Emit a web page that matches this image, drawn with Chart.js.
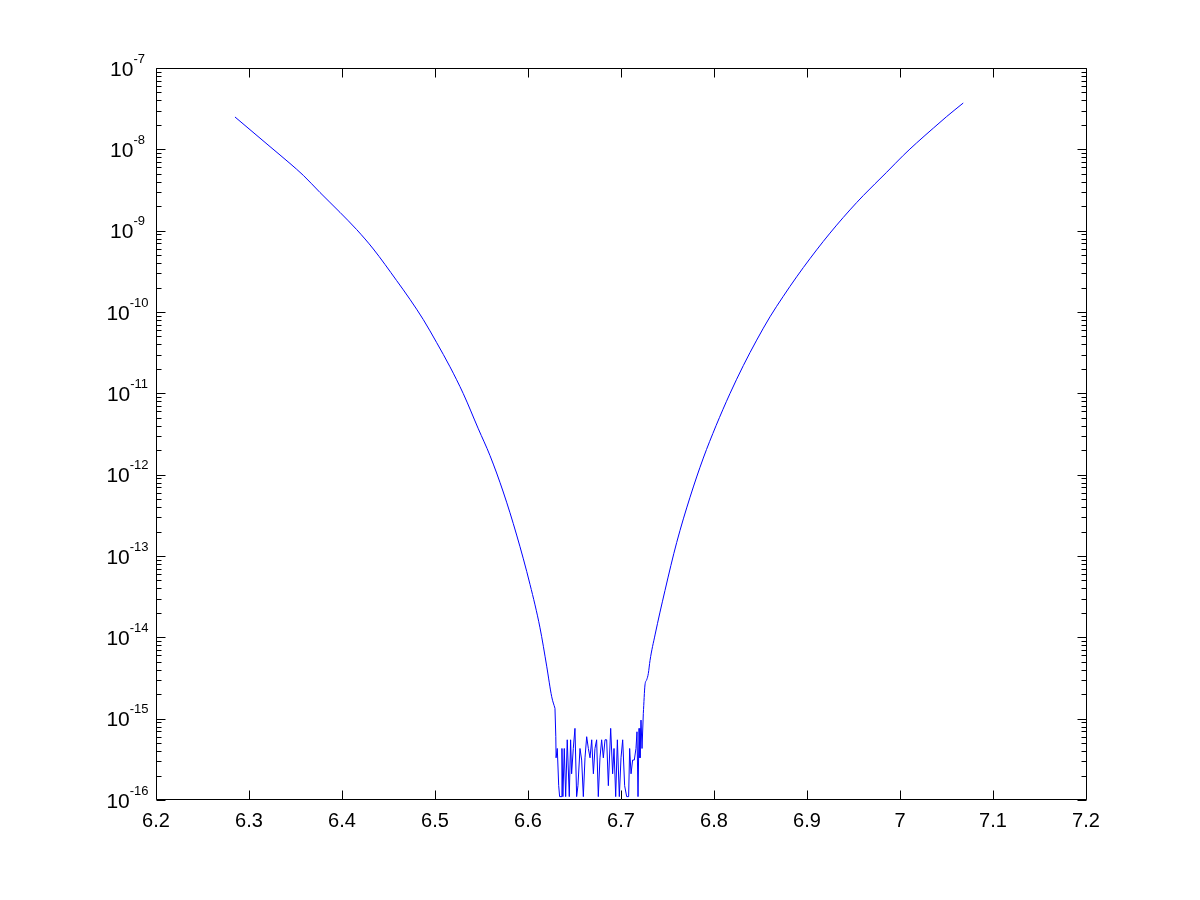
<!DOCTYPE html>
<html><head><meta charset="utf-8">
<script src="https://cdn.jsdelivr.net/npm/chart.js@4"></script>
<style>html,body{margin:0;padding:0;background:#fff}canvas{display:block}</style>
</head><body>
<canvas id="c" width="1200" height="900"></canvas>
<script>
// Left (descending) branch
const leftX = [6.2849, 6.3226, 6.3441, 6.3584, 6.3763, 6.3978, 6.4158, 6.4337, 6.4588, 6.4731, 6.4874, 6.5018, 6.5161, 6.5304, 6.5466, 6.5591, 6.5734, 6.5878, 6.6022, 6.6129, 6.6201, 6.6255, 6.6290];
const leftY = [2.50e-8, 1.08e-8, 6.70e-9, 4.79e-9, 2.95e-9, 1.68e-9, 1.03e-9, 5.95e-10, 2.43e-10, 1.43e-10, 8.07e-11, 4.20e-11, 2.12e-11, 9.92e-12, 3.66e-12, 1.72e-12, 6.12e-13, 1.81e-13, 4.46e-14, 1.31e-14, 4.42e-15, 1.86e-15, 1.34e-15];
// Round-off noise floor
const noiseX = [6.6299, 6.6302, 6.6315, 6.6330, 6.6340, 6.6355, 6.6365, 6.6375, 6.6390, 6.6405, 6.6422, 6.6444, 6.6458, 6.6469, 6.6487, 6.6505, 6.6523, 6.6537, 6.6559, 6.6577, 6.6595, 6.6613, 6.6631, 6.6649, 6.6667, 6.6685, 6.6703, 6.6720, 6.6738, 6.6756, 6.6774, 6.6792, 6.6810, 6.6828, 6.6846, 6.6864, 6.6889, 6.6910, 6.6925, 6.6943, 6.6961, 6.6982, 6.7000, 6.7018, 6.7039, 6.7061, 6.7082, 6.7093, 6.7108, 6.7125, 6.7143, 6.7161, 6.7172, 6.7183, 6.7194, 6.7204, 6.7215, 6.7226];
const noiseY = [6.0e-16, 3.3e-16, 4.3e-16, 1.5e-16, 1.1e-16, 1.1e-16, 4.3e-16, 1.1e-16, 4.3e-16, 1.1e-16, 5.5e-16, 1.1e-16, 5.5e-16, 2.1e-16, 4.3e-16, 7.6e-16, 1.1e-16, 1.5e-16, 4.3e-16, 3.1e-16, 1.1e-16, 3.3e-16, 6.0e-16, 4.3e-16, 3.3e-16, 5.5e-16, 2.1e-16, 4.3e-16, 5.5e-16, 1.1e-16, 3.3e-16, 5.5e-16, 3.3e-16, 5.5e-16, 5.5e-16, 1.5e-16, 7.6e-16, 2.1e-16, 4.3e-16, 1.1e-16, 5.5e-16, 1.1e-16, 3.3e-16, 5.5e-16, 1.5e-16, 1.1e-16, 1.1e-16, 4.3e-16, 2.1e-16, 3.1e-16, 3.1e-16, 4.3e-16, 6.9e-16, 1.1e-16, 7.6e-16, 3.3e-16, 9.6e-16, 4.3e-16];
// Right (ascending) branch
const rightX = [6.7240, 6.7258, 6.7276, 6.7294, 6.7312, 6.7366, 6.7473, 6.7599, 6.7742, 6.7885, 6.8022, 6.8172, 6.8315, 6.8459, 6.8602, 6.8745, 6.8889, 6.9032, 6.9175, 6.9319, 6.9462, 6.9605, 6.9857, 7.0035, 7.0179, 7.0358, 7.0502, 7.0680];
const rightY = [1.16e-15, 2.6e-15, 3.0e-15, 3.6e-15, 5.2e-15, 1.07e-14, 3.77e-14, 1.47e-13, 5.27e-13, 1.60e-12, 4.00e-12, 9.95e-12, 2.19e-11, 4.51e-11, 8.73e-11, 1.56e-10, 2.71e-10, 4.53e-10, 7.38e-10, 1.17e-9, 1.80e-9, 2.70e-9, 5.23e-9, 8.42e-9, 1.20e-8, 1.82e-8, 2.53e-8, 3.71e-8];

const xTickValues = [6.2, 6.3, 6.4, 6.5, 6.6, 6.7, 6.8, 6.9, 7.0, 7.1, 7.2];
const xTickLabels = ['6.2', '6.3', '6.4', '6.5', '6.6', '6.7', '6.8', '6.9', '7', '7.1', '7.2'];
const yExponents = [-16, -15, -14, -13, -12, -11, -10, -9, -8, -7];
const yMinorMultipliers = [2, 3, 4, 5, 6, 7, 8, 9];

const toPts = (xs, ys) => xs.map((x, i) => ({x: x, y: ys[i]}));
const leftPts = toPts(leftX, leftY);
const rightPts = toPts(rightX, rightY);
// noise segment joined to the ends of both branches
const noisePts = [leftPts[leftPts.length - 1]].concat(toPts(noiseX, noiseY), [rightPts[0]]);

const FONT = '"Liberation Sans", Arial, Helvetica, sans-serif';

const matlabAxes = {
  id: 'matlabAxes',
  afterDraw(chart) {
    const ctx = chart.ctx;
    const ca = chart.chartArea;
    const xs = chart.scales.x, ys = chart.scales.y;
    const L = Math.round(ca.left) + 0.5, R = Math.round(ca.right) + 0.5;
    const T = Math.round(ca.top) + 0.5, B = Math.round(ca.bottom) - 0.5;
    ctx.save();
    ctx.strokeStyle = '#000';
    ctx.lineWidth = 1;
    ctx.beginPath();
    ctx.rect(L, T, R - L, B - T);
    xTickValues.forEach(v => {
      const px = Math.round(xs.getPixelForValue(v)) + 0.5;
      ctx.moveTo(px, B); ctx.lineTo(px, B - 9);
      ctx.moveTo(px, T); ctx.lineTo(px, T + 9);
    });
    yExponents.forEach((e, i) => {
      const py = Math.round(ys.getPixelForValue(Math.pow(10, e))) + 0.5;
      ctx.moveTo(L, py); ctx.lineTo(L + 9, py);
      ctx.moveTo(R, py); ctx.lineTo(R - 9, py);
      if (i < yExponents.length - 1) {
        yMinorMultipliers.forEach(m => {
          const pm = Math.round(ys.getPixelForValue(m * Math.pow(10, e))) + 0.5;
          ctx.moveTo(L, pm); ctx.lineTo(L + 5, pm);
          ctx.moveTo(R, pm); ctx.lineTo(R - 5, pm);
        });
      }
    });
    ctx.stroke();

    ctx.fillStyle = '#000';
    ctx.font = '20px ' + FONT;
    ctx.textAlign = 'center';
    ctx.textBaseline = 'alphabetic';
    xTickValues.forEach((v, i) => {
      ctx.fillText(xTickLabels[i], xs.getPixelForValue(v), ca.bottom + 27);
    });
    ctx.textAlign = 'left';
    yExponents.forEach(e => {
      const py = ys.getPixelForValue(Math.pow(10, e));
      const base = '10', sup = String(e);
      ctx.font = '21px ' + FONT;
      const wb = ctx.measureText(base).width;
      ctx.font = '13px ' + FONT;
      const ws = ctx.measureText(sup).width;
      const x0 = 127.5 - (wb + ws) / 2;
      ctx.font = '21px ' + FONT;
      ctx.fillText(base, x0, py + 7.5);
      ctx.font = '13px ' + FONT;
      ctx.fillText(sup, x0 + wb, py - 5.5);
    });
    ctx.restore();
  }
};

const lineStyle = {borderColor: '#0000ff', borderWidth: 1, pointRadius: 0, fill: false};

new Chart(document.getElementById('c'), {
  type: 'line',
  data: {
    datasets: [
      Object.assign({data: leftPts, cubicInterpolationMode: 'monotone'}, lineStyle),
      Object.assign({data: noisePts, tension: 0}, lineStyle),
      Object.assign({data: rightPts, cubicInterpolationMode: 'monotone'}, lineStyle)
    ]
  },
  options: {
    responsive: false,
    devicePixelRatio: 1,
    animation: false,
    layout: {padding: {left: 156, right: 114, top: 68, bottom: 100}},
    plugins: {legend: {display: false}, tooltip: {enabled: false}},
    scales: {
      x: {type: 'linear', min: 6.2, max: 7.2, display: false},
      y: {type: 'logarithmic', min: 1e-16, max: 1e-7, display: false}
    }
  },
  plugins: [matlabAxes]
});
</script>
</body></html>
